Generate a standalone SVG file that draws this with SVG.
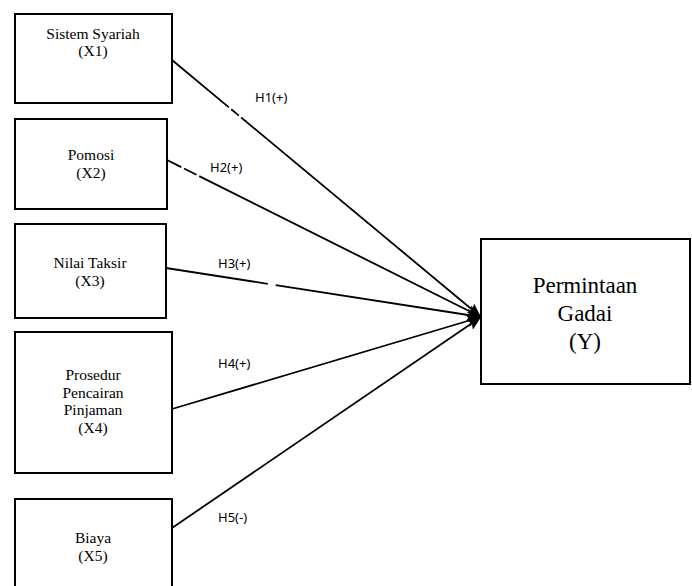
<svg xmlns="http://www.w3.org/2000/svg" width="692" height="586" viewBox="0 0 692 586">
<style>
.box{fill:#fff;stroke:#000;stroke-width:2}
.t{font-family:"Liberation Serif","Times New Roman",serif;font-size:15.5px;fill:#000;text-anchor:middle}
.ty{font-family:"Liberation Serif","Times New Roman",serif;font-size:23px;fill:#000;text-anchor:middle}
.h{font-family:"Noto Sans","Open Sans",sans-serif;font-size:13px;fill:#000}
.c{stroke:#000;stroke-width:1.8;fill:none;marker-end:url(#ah)}
</style>
<defs>
<marker id="ah" viewBox="0 0 14 12" refX="14" refY="6" markerWidth="14" markerHeight="12" markerUnits="userSpaceOnUse" orient="auto">
<path d="M0,0 L14,6 L0,12 L3,6 Z" fill="#000"/>
</marker>
</defs>
<rect width="692" height="586" fill="#fff"/>
<g id="connectors">
<line class="c" x1="172" y1="60" x2="481" y2="317" stroke-dasharray="74 3 10 3 400"/>
<line class="c" x1="167" y1="160" x2="481" y2="317" stroke-dasharray="16 3 14 3 400"/>
<line class="c" x1="166" y1="268" x2="481" y2="317" stroke-dasharray="103 8 400"/>
<line class="c" x1="172" y1="409" x2="481" y2="317"/>
<line class="c" x1="172" y1="528" x2="481" y2="317"/>
</g>
<g id="X1">
<rect class="box" x="15" y="14" width="157" height="89"/>
<text class="t" x="93" y="39">Sistem Syariah</text>
<text class="t" x="93" y="56">(X1)</text>
</g>
<g id="X2">
<rect class="box" x="15" y="119" width="152" height="90"/>
<text class="t" x="91" y="160">Pomosi</text>
<text class="t" x="91" y="178">(X2)</text>
</g>
<g id="X3">
<rect class="box" x="15" y="224" width="151" height="94"/>
<text class="t" x="90" y="268">Nilai Taksir</text>
<text class="t" x="90" y="286">(X3)</text>
</g>
<g id="X4">
<rect class="box" x="15" y="332" width="157" height="141"/>
<text class="t" x="93" y="380">Prosedur</text>
<text class="t" x="93" y="398">Pencairan</text>
<text class="t" x="93" y="415">Pinjaman</text>
<text class="t" x="93" y="433">(X4)</text>
</g>
<g id="X5">
<rect class="box" x="15" y="499" width="157" height="95"/>
<text class="t" x="93" y="543">Biaya</text>
<text class="t" x="93" y="561">(X5)</text>
</g>
<g id="Y">
<rect class="box" x="481" y="239" width="209" height="145"/>
<text class="ty" x="585" y="293">Permintaan</text>
<text class="ty" x="585" y="321">Gadai</text>
<text class="ty" x="585" y="349">(Y)</text>
</g>
<g id="labels">
<text class="h" x="255" y="102">H1(+)</text>
<text class="h" x="210" y="172">H2(+)</text>
<text class="h" x="218" y="268">H3(+)</text>
<text class="h" x="218" y="368">H4(+)</text>
<text class="h" x="218" y="522">H5(-)</text>
</g>
</svg>
